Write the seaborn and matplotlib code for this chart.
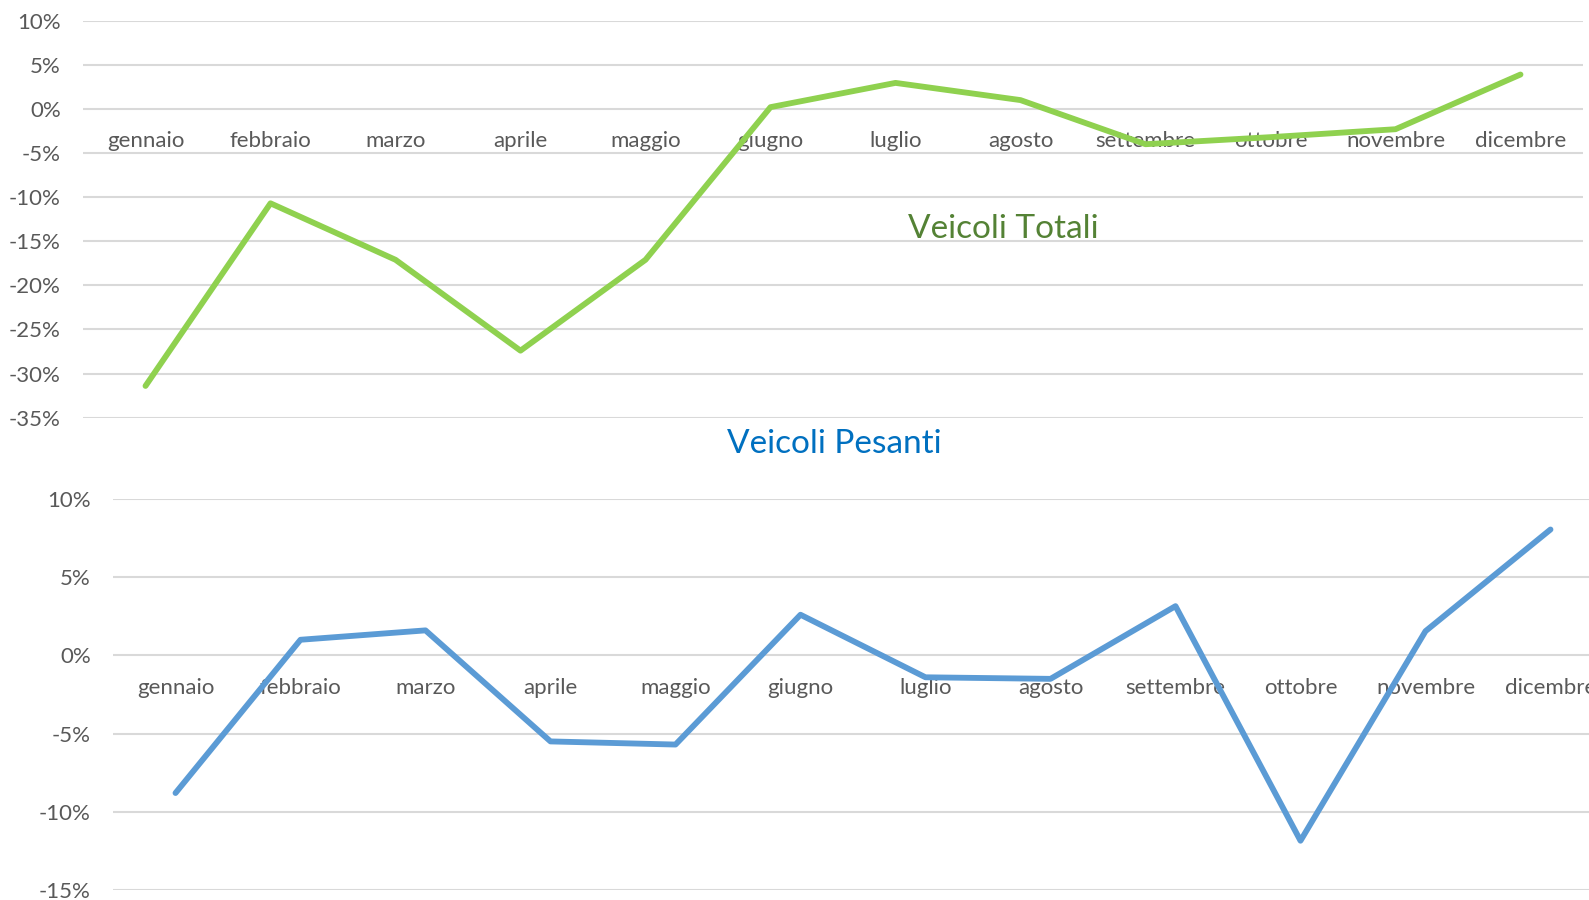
import matplotlib
matplotlib.use("Agg")
import matplotlib.pyplot as plt
import seaborn as sns
import pandas as pd
from matplotlib.ticker import PercentFormatter, MultipleLocator

mesi = ["gennaio", "febbraio", "marzo", "aprile", "maggio", "giugno",
        "luglio", "agosto", "settembre", "ottobre", "novembre", "dicembre"]
totali = [-31.4, -10.7, -17.1, -27.4, -17.1, 0.2, 2.95, 1.0, -4.0, -3.2, -2.3, 3.9]
pesanti = [-8.8, 1.0, 1.6, -5.5, -5.7, 2.6, -1.4, -1.5, 3.15, -11.85, 1.55, 8.05]

W, H = 1589, 900

sns.set_theme(style="white")
plt.rcParams["font.family"] = ["Lato", "DejaVu Sans"]
plt.rcParams["axes.unicode_minus"] = False

GRID = "#D9D9D9"
TXT = "#595959"


def draw(ax, values, color, ylim, step):
    df = pd.DataFrame({"mese": mesi, "val": values})
    sns.lineplot(data=df, x="mese", y="val", ax=ax, color=color,
                 linewidth=4.2, sort=False, zorder=3)
    ax.set_xlim(-0.5, len(mesi) - 0.5)
    ax.set_ylim(*ylim)
    ax.yaxis.set_major_locator(MultipleLocator(step))
    ax.yaxis.set_major_formatter(PercentFormatter(xmax=100, decimals=0))
    ax.grid(axis="y", color=GRID, linewidth=1.5)
    ax.set_axisbelow(True)
    for s in ["top", "right", "left", "bottom"]:
        ax.spines[s].set_visible(False)
    # month labels sit just under the 0% line
    ax.spines["bottom"].set_position(("data", 0))
    ax.tick_params(axis="x", length=0, pad=16, labelsize=16, labelcolor=TXT)
    ax.tick_params(axis="y", length=0, pad=16, labelsize=16, labelcolor=TXT)
    ax.set_xlabel("")
    ax.set_ylabel("")


fig = plt.figure(figsize=(W / 100, H / 100), dpi=100)

# top panel: Veicoli Totali
ax1 = fig.add_axes([83 / W, 1 - 417.7 / H, 1500 / W, (417.7 - 20.7) / H])
draw(ax1, totali, "#8FD14F", (-35, 10), 5)
fig.text(1003 / W, 1 - 229 / H, "Veicoli Totali",
         ha="center", va="center", fontsize=24, color="#548235")

# bottom panel: Veicoli Pesanti
ax2 = fig.add_axes([113 / W, 1 - 890 / H, 1500 / W, (890 - 499) / H])
draw(ax2, pesanti, "#5B9BD5", (-15, 10), 5)
fig.text(834 / W, 1 - 444 / H, "Veicoli Pesanti",
         ha="center", va="center", fontsize=24, color="#0070C0")

fig.savefig("out.png", dpi=100)
